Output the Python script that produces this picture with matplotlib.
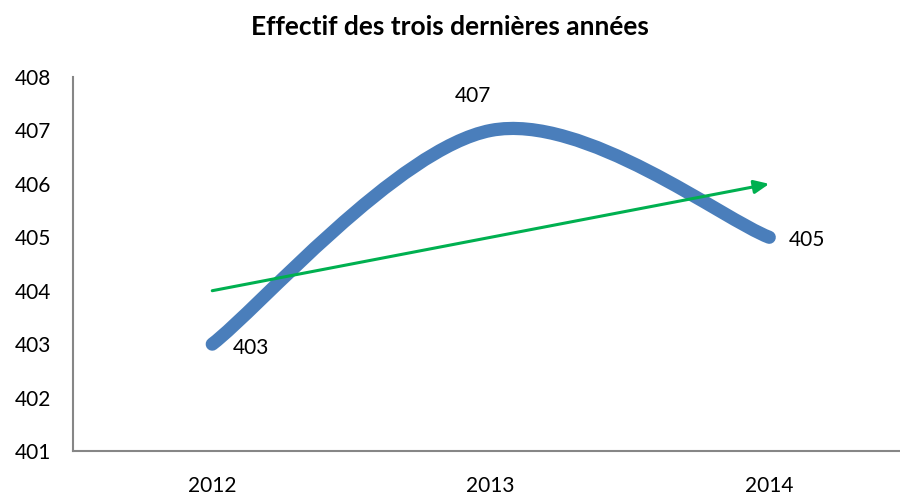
import numpy as np
import matplotlib.pyplot as plt
from matplotlib.path import Path
from matplotlib.patches import PathPatch

# data
years = ['2012', '2013', '2014']
effectif = [403, 407, 405]
trend_start = 404
trend_end = 406

plt.rcParams['font.family'] = ['Lato', 'DejaVu Sans']

fig = plt.figure(figsize=(9, 4.98), dpi=100)
ax = fig.add_axes([73 / 900, 47 / 498, 835.5 / 900, 374 / 498])

x = np.arange(len(years))
y = np.array(effectif, dtype=float)

# Excel style smoothed line (Catmull-Rom as cubic bezier)
verts = [(x[0], y[0])]
codes = [Path.MOVETO]
n = len(x)
for i in range(n - 1):
    p_prev = (x[max(i - 1, 0)], y[max(i - 1, 0)])
    p0 = (x[i], y[i])
    p1 = (x[i + 1], y[i + 1])
    p_next = (x[min(i + 2, n - 1)], y[min(i + 2, n - 1)])
    c1 = (p0[0] + (p1[0] - p_prev[0]) / 6, p0[1] + (p1[1] - p_prev[1]) / 6)
    c2 = (p1[0] - (p_next[0] - p0[0]) / 6, p1[1] - (p_next[1] - p0[1]) / 6)
    verts += [c1, c2, p1]
    codes += [Path.CURVE4] * 3

curve = PathPatch(Path(verts, codes), facecolor='none', edgecolor='#4A7EBB',
                  linewidth=9.5, capstyle='round', joinstyle='round', zorder=2)
ax.add_patch(curve)

# trend arrow
ax.annotate('', xy=(x[-1], trend_end), xytext=(x[0], trend_start),
            arrowprops=dict(arrowstyle='-|>,head_length=0.9,head_width=0.4',
                            color='#00B050', lw=2.2, shrinkA=0, shrinkB=0),
            zorder=3)

# data labels
ax.annotate(str(effectif[0]), (x[0], y[0]), xytext=(15, -3), textcoords='offset points',
            ha='left', va='center', fontsize=15)
ax.annotate(str(effectif[1]), (x[1], y[1]), xytext=(-13, 25), textcoords='offset points',
            ha='center', va='center', fontsize=15)
ax.annotate(str(effectif[2]), (x[2], y[2]), xytext=(14, -2), textcoords='offset points',
            ha='left', va='center', fontsize=15)

ax.set_xlim(-0.5, 2.5)
ax.set_ylim(401, 408)
ax.set_xticks(x)
ax.set_xticklabels(years)
ax.set_yticks(range(401, 409))
ax.tick_params(axis='both', length=0, labelsize=15)
ax.tick_params(axis='x', pad=18)
ax.tick_params(axis='y', pad=16)

for s in ['top', 'right']:
    ax.spines[s].set_visible(False)
for s in ['left', 'bottom']:
    ax.spines[s].set_color('#868686')
    ax.spines[s].set_linewidth(1.5)

fig.text(0.5, 1 - 27 / 498, 'Effectif des trois dernières années', ha='center', va='center',
         fontsize=19, fontweight='bold')

fig.savefig('out.png', dpi=100)
